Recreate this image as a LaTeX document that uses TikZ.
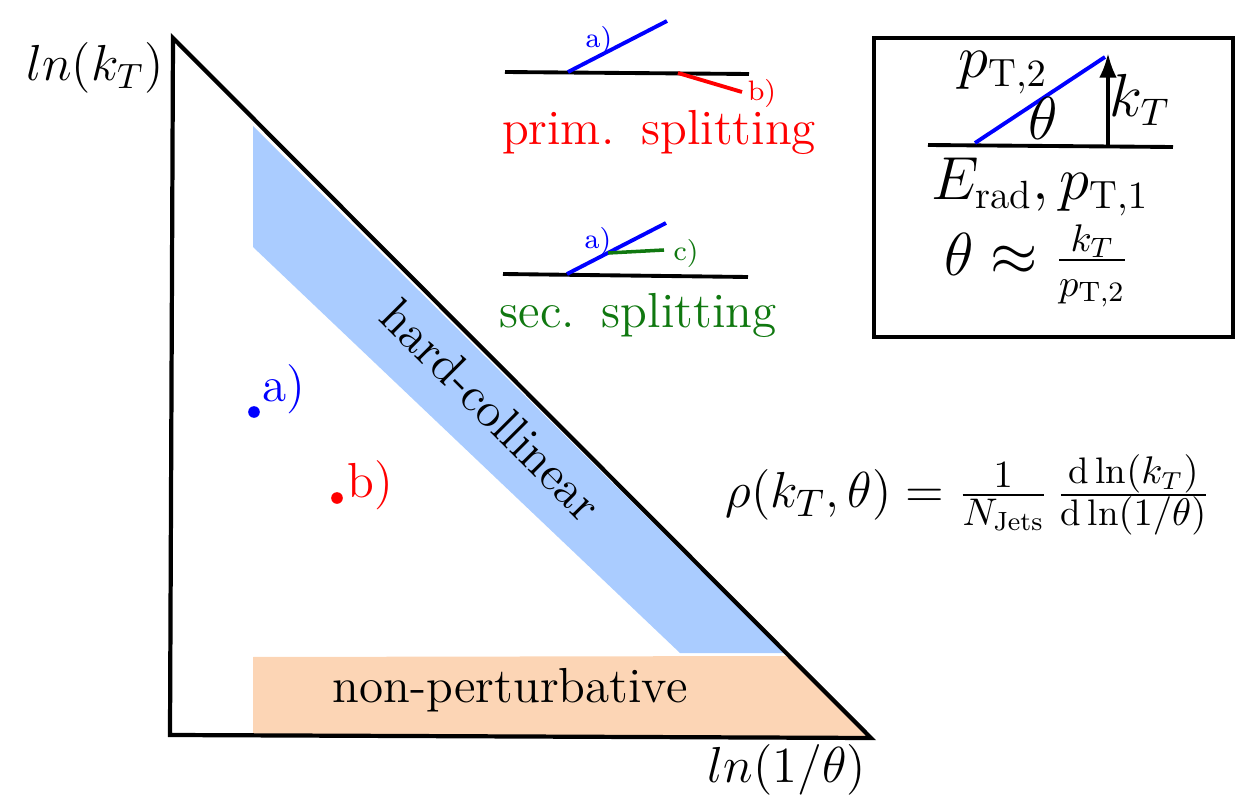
\documentclass[tikz,border=0pt]{standalone}
\usepackage{fontspec}
\usepackage{tikz}
\usetikzlibrary{arrows.meta, positioning, calc}
\definecolor{CollinearBlue}{RGB}{170,204,255}
\definecolor{NonPertPeach}{RGB}{252,213,181}
\definecolor{SecGreen}{RGB}{16,120,16}
\newcommand{\tagfont}{\fontsize{8}{9}\selectfont}
\newcommand{\boxfont}{\fontsize{16}{18}\selectfont}

\begin{document}
\begin{tikzpicture}[
    x=0.01cm,
    y=-0.01cm,
    font=\fontsize{14}{16}\selectfont,
    edge/.style={line width=1.2pt, line join=miter},
    leg/.style={line width=1.1pt},
    tag/.style={font=\tagfont, inner sep=0pt},
    dot/.style={circle, inner sep=0pt, minimum size=3.3pt}
]
\useasboundingbox (0,0) rectangle (1238,800);

% Regions of the plane
\fill[CollinearBlue] (253,126) -- (784,653) -- (680,653) -- (253,247) -- cycle;
\fill[NonPertPeach] (253,657) -- (786,656) -- (870,737) -- (253,734) -- cycle;

% Lund triangle
\coordinate (top) at (173,38);
\coordinate (corner) at (170,735);
\coordinate (tip) at (871,738);
\draw[edge] (top) -- (corner) -- (tip) -- cycle;

% Axis labels
\node (ylab) at (95,68) {$ln(k_T)$};
\node (xlab) at (787,770) {$ln(1/\theta)$};

% Region labels
\node (nonpert) at (510,690) {non-perturbative};
\node[rotate=-45.1] (hardcoll) at (492,410) {hard-collinear};

% Emissions in the plane
\node[dot, fill=blue] (dotA) at (254,412) {};
\node[blue, anchor=base west, inner sep=0pt] (labA) at ($(dotA)+(8,-10)$) {a)};
\node[dot, fill=red] (dotB) at (337,498) {};
\node[red, anchor=base west, inner sep=0pt] (labB) at ($(dotB)+(10,-1)$) {b)};

% Primary splitting
\coordinate (prim0) at (505,72);
\coordinate (prim1) at (749,74);
\coordinate (primA0) at (568,72);
\coordinate (primA1) at (667,21);
\coordinate (primB0) at (678,73);
\coordinate (primB1) at (742,92);
\draw[leg] (prim0) -- (prim1);
\draw[leg, blue] (primA0) -- (primA1);
\draw[leg, red] (primB0) -- (primB1);
\node[tag, blue] (primAlab) at (599,40) {a)};
\node[tag, red] (primBlab) at (762,93) {b)};
\node[red] (primlab) at (659,132) {prim.\hspace{0.55em}splitting};

% Secondary splitting
\coordinate (sec0) at (503,274);
\coordinate (sec1) at (748,277);
\coordinate (secA0) at (567,274);
\coordinate (secA1) at (666,223);
\coordinate (secC0) at (608,253);
\coordinate (secC1) at (664,250);
\draw[leg] (sec0) -- (sec1);
\draw[leg, blue] (secA0) -- (secA1);
\draw[leg, SecGreen, line width=1pt] (secC0) -- (secC1);
\node[tag, blue] (secAlab) at (598,241) {a)};
\node[tag, SecGreen] (secClab) at (686,253) {c)};
\node[SecGreen] (seclab) at (638,315) {sec.\hspace{0.55em}splitting};

% Kinematics box
\draw[edge] (874,38) rectangle (1233,337);
\coordinate (kin0) at (928,145);
\coordinate (kin1) at (1173,147);
\coordinate (kinA0) at (975,143);
\coordinate (kinA1) at (1105,57);
\coordinate (kt0) at (1108,146);
\coordinate (kt1) at (1108,53);
\draw[leg] (kin0) -- (kin1);
\draw[leg, blue] (kinA0) -- (kinA1);
\draw[leg, -{Latex[length=7pt, width=5pt]}] (kt0) -- (kt1);
\node[font=\boxfont] (pt2) at (1003,73) {$p_{\mathrm{T},2}$};
\node[font=\boxfont] (theta) at (1043,118) {$\theta$};
\node[font=\boxfont] (kt) at (1140,100) {$k_T$};
\node[font=\boxfont] (erad) at (1040,187) {$E_{\mathrm{rad}},p_{\mathrm{T},1}$};
\node[font=\boxfont] (approx) at (1037,266) {$\theta \approx \frac{k_T}{p_{\mathrm{T},2}}$};

% Density definition
\node[font=\fontsize{15}{17}\selectfont] (rho) at (968,495)
  {$\rho(k_T,\theta) = \frac{1}{N_{\mathrm{Jets}}}\,\frac{\mathrm{d}\ln(k_T)}{\mathrm{d}\ln(1/\theta)}$};

\end{tikzpicture}
\end{document}
